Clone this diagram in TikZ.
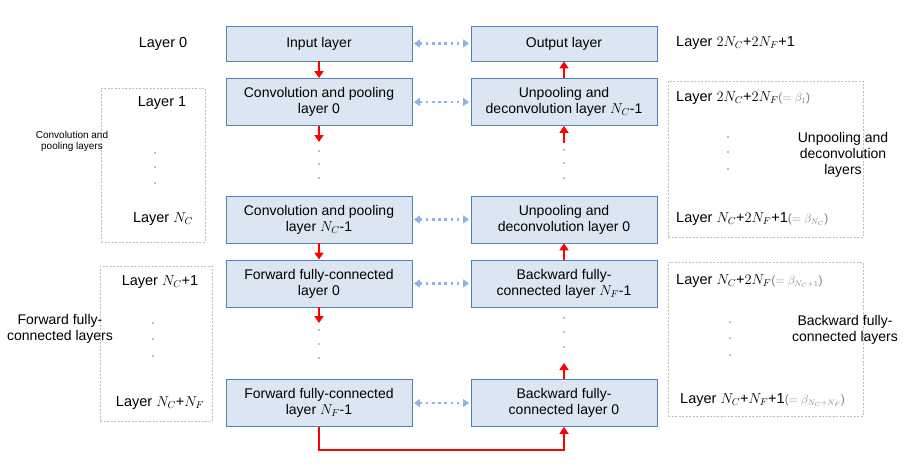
\documentclass[tikz,border=0pt]{standalone}
\usepackage{fontspec}
\setmainfont{Liberation Sans}
\usetikzlibrary{arrows.meta}
\definecolor{capafondo}{HTML}{DCE6F2}
\definecolor{capaborde}{HTML}{4F81BD}
\definecolor{enlace}{HTML}{8EB4E3}
\newcommand{\beq}[1]{\textcolor{gray}{\fontsize{12}{14}\selectfont($=#1$)}}
\begin{document}
\begin{tikzpicture}[x=1pt,y=-1pt,
    capa/.style={draw=capaborde,fill=capafondo,line width=0.8pt,minimum width=186pt,minimum height=47pt,align=center,font=\fontsize{14}{16}\selectfont,inner sep=0pt},
    grupo/.style={draw=gray!50,dash pattern=on 2pt off 1.5pt,line width=0.6pt,minimum width=#1,inner sep=0pt},
    etiq/.style={font=\fontsize{14.5}{16}\selectfont,inner sep=0pt},
    flujo/.style={draw=red,line width=2.6pt,-{Triangle[length=7pt,width=9pt]}},
    enlace/.style={draw=enlace,line width=2.6pt,dash pattern=on 2.6pt off 3.6pt,{Triangle[length=6pt,width=8pt]}-{Triangle[length=6pt,width=8pt]},shorten <=1.5pt,shorten >=1.5pt}]
    \useasboundingbox (0,0) rectangle (908,474);

    % Capas (columna izquierda)
    \node[capa,minimum height=35pt] (inp) at (319,43.5) {Input layer};
    \node[capa] (conv0) at (319,102) {Convolution and pooling\\layer 0};
    \node[capa] (convN) at (319,219.5) {Convolution and pooling\\layer $N_C$-1};
    \node[capa] (ffc0) at (319,283.5) {Forward fully-connected\\layer 0};
    \node[capa] (ffcN) at (319,403) {Forward fully-connected\\layer $N_F$-1};

    % Capas (columna derecha)
    \node[capa,minimum height=35pt] (outp) at (564,43.5) {Output layer};
    \node[capa] (unpN) at (564,102) {Unpooling and\\deconvolution layer $N_C$-1};
    \node[capa] (unp0) at (564,219.5) {Unpooling and\\deconvolution layer 0};
    \node[capa] (bfcN) at (564,283.5) {Backward fully-\\connected layer $N_F$-1};
    \node[capa] (bfc0) at (564,403) {Backward fully-\\connected layer 0};

    % Grupos
    \node[grupo=104pt,minimum height=154pt] (grpC) at (153,165) {};
    \node[grupo=112pt,minimum height=155pt] (grpF) at (156,343.5) {};
    \node[grupo=195pt,minimum height=156pt] (grpU) at (765.5,159) {};
    \node[grupo=195pt,minimum height=154pt] (grpB) at (765.5,339) {};

    \node[align=center,font=\fontsize{10}{11}\selectfont,inner sep=0pt] (txtC) at (72,141) {Convolution and\\pooling layers};
    \node[align=center,font=\fontsize{14}{16}\selectfont,inner sep=0pt] (txtF) at (60,329) {Forward fully-\\connected layers};
    \node[align=center,font=\fontsize{14}{16}\selectfont,inner sep=0pt] (txtU) at (843,155) {Unpooling and\\deconvolution\\layers};
    \node[align=center,font=\fontsize{14}{16}\selectfont,inner sep=0pt] (txtB) at (845,330) {Backward fully-\\connected layers};

    % Etiquetas de capa
    \node[etiq] (l0) at (163,44) {Layer 0};
    \node[etiq] (l1) at (162,103) {Layer 1};
    \node[etiq] (lc) at (163,219) {Layer $N_C$};
    \node[etiq] (lc1) at (160,282) {Layer $N_C$+1};
    \node[etiq] (lcf) at (160,403) {Layer $N_C$+$N_F$};

    \node[etiq,anchor=west] (r0) at (676,43) {Layer $2N_C$+$2N_F$+1};
    \node[etiq,anchor=west] (r1) at (676,98) {Layer $2N_C$+$2N_F$\beq{\beta_1}};
    \node[etiq,anchor=west] (r2) at (676,219) {Layer $N_C$+$2N_F$+1\beq{\beta_{N_C}}};
    \node[etiq,anchor=west] (r3) at (676,281) {Layer $N_C$+$2N_F$\beq{\beta_{N_C+1}}};
    \node[etiq,anchor=west] (r4) at (680,400) {Layer $N_C$+$N_F$+1\beq{\beta_{N_C+N_F}}};

    % Puntos suspensivos
    \foreach \x/\ya/\yb/\yc in {155/153/167/183, 153/323/339/356, 728/137/152/169, 730/322/338/355,
                                319/151/164/178, 319/330/344/358, 564/150/163/178, 564/318/332/347}
        \foreach \y in {\ya,\yb,\yc}
            \fill[gray] (\x,\y) circle (0.9pt);

    % Flechas rojas
    \coordinate (c1) at (319,142);
    \coordinate (f1) at (319,323);
    \coordinate (u1) at (564,143);
    \coordinate (b1) at (564,363);
    \draw[flujo] (inp) -- (conv0);
    \draw[flujo] (conv0) -- (c1);
    \draw[flujo] (convN) -- (ffc0);
    \draw[flujo] (ffc0) -- (f1);
    \draw[flujo] (ffcN.south) -- ++(0,23) -| (bfc0.south);
    \draw[flujo] (bfc0) -- (b1);
    \draw[flujo] (bfcN) -- (unp0);
    \draw[flujo] (u1) -- (unpN);
    \draw[flujo] (unpN) -- (outp);

    % Enlaces entre columnas
    \draw[enlace] (inp) -- (outp);
    \draw[enlace] (conv0) -- (unpN);
    \draw[enlace] (convN) -- (unp0);
    \draw[enlace] (ffc0) -- (bfcN);
    \draw[enlace] (ffcN) -- (bfc0);
\end{tikzpicture}
\end{document}
